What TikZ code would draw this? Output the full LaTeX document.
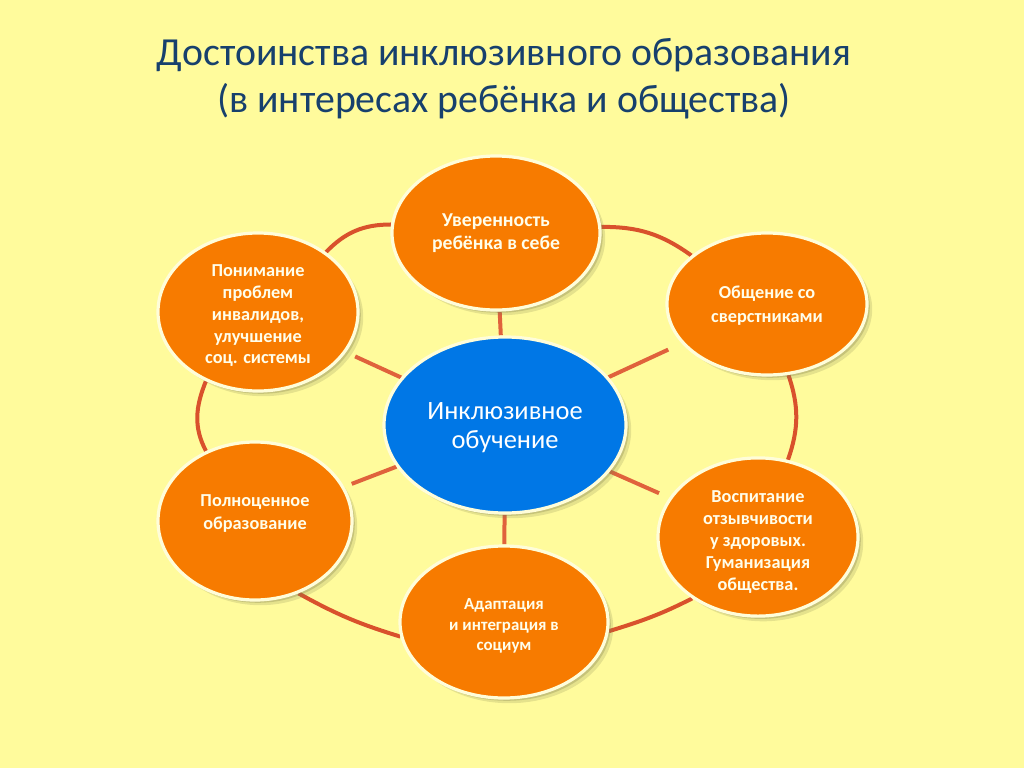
\documentclass[tikz,border=0pt]{standalone}
\usepackage{fontspec}
\setmainfont{Carlito}
\usepackage{xcolor}
\usepackage{tikz}
\usetikzlibrary{shapes.geometric,shadows,backgrounds}
\definecolor{paper}{HTML}{FFFB9C}
\definecolor{titleblue}{HTML}{17406D}
\definecolor{orangefill}{HTML}{F77B00}
\definecolor{hubblue}{HTML}{0077E6}
\definecolor{ringred}{HTML}{D9512C}
\definecolor{spokered}{HTML}{E0623C}
\newcommand{\firstline}[1]{\rule{0pt}{#1}}
\tikzset{
    blob/.style={ellipse,draw=white!85!yellow,line width=0.8mm,inner sep=0pt,align=center,
        drop shadow={shadow xshift=1.3mm,shadow yshift=-1.3mm,opacity=0.2,fill=black!50!paper},
        drop shadow={shadow xshift=0.7mm,shadow yshift=-0.7mm,opacity=0.3,fill=black!50!paper}},
    item/.style 2 args={blob,fill=orangefill,text=white!92!yellow,font=\fontsize{#1}{#2}\selectfont\bfseries},
    hub/.style={blob,fill=hubblue,text=white,font=\fontsize{18.8}{20.8}\selectfont},
    ring/.style={ringred,line width=1mm},
    spoke/.style={spokered,line width=1mm}
}

\begin{document}
\begin{tikzpicture}[x=0.25mm,y=-0.25mm]
        \node[text=titleblue,font=\fontsize{28.3}{33.4}\selectfont,align=center] (title) at (504,79) {Достоинства инклюзивного образования\\(в интересах ребёнка и общества)};

        \node[item={14}{16.3},minimum width=52mm,minimum height=38.5mm] (top) at (496,233) {Уверенность\\ребёнка в себе};
        \node[item={13}{15.6},minimum width=50mm,minimum height=39.5mm] (ul) at (258,312) {\firstline{4.8mm}Понимание\\проблем\\инвалидов,\\улучшение\\соц. системы};
        \node[item={13}{17},minimum width=50mm,minimum height=35.5mm] (ur) at (767,304) {\firstline{3.9mm}Общение со\\сверстниками};
        \node[item={13}{16.3},minimum width=48.5mm,minimum height=39.5mm,text depth=4.5mm] (ll) at (255,521) {Полноценное\\образование};
        \node[item={13}{15.6},minimum width=50mm,minimum height=39.5mm] (lr) at (758,537) {\firstline{5.3mm}Воспитание\\отзывчивости\\у здоровых.\\Гуманизация\\общества.};
        \node[item={12}{14.6},minimum width=52mm,minimum height=38mm] (bot) at (504,622) {\firstline{4.7mm}Адаптация\\и интеграция в\\социум};
        \node[hub,minimum width=60.5mm,minimum height=44mm] (hub) at (505,425) {\firstline{5.7mm}Инклюзивное\\обучение};

        \begin{scope}[on background layer]
        \fill[paper] (0,0) rectangle (1024,768);
        \draw[ring] (top) to[bend left=18] (ur);
        \draw[ring] (ur) to[bend left=19] (lr);
        \draw[ring] (lr.223) to[out=207,in=17] (bot.-5);
        \draw[ring] (bot.188) to[out=163,in=-29] (ll.-59);
        \draw[ring] (ll.125) to[out=118,in=248] (ul.233);
        \draw[ring] (ul) to[bend left=23] (top);
        \foreach \n/\g in {top/0mm,bot/0mm,ul/2.5mm,ur/3.7mm,ll/2mm,lr/2.8mm}
            \draw[spoke,shorten >=\g] (hub) -- (\n);
        \end{scope}
\end{tikzpicture}
\end{document}
